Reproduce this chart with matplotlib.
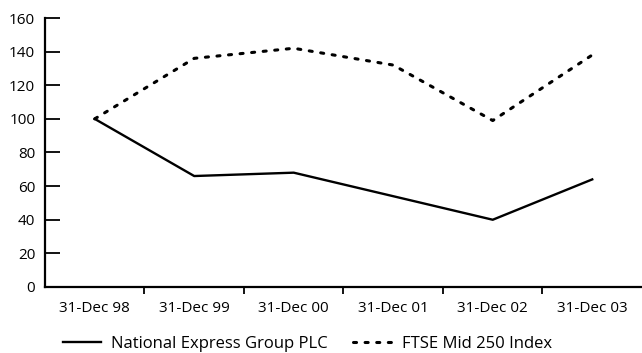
import matplotlib
matplotlib.use("Agg")
import matplotlib.pyplot as plt
import numpy as np

# values
dates = ["31-Dec 98", "31-Dec 99", "31-Dec 00", "31-Dec 01", "31-Dec 02", "31-Dec 03"]
national_express = [100, 66, 68, 54, 40, 64]
ftse_mid_250 = [100, 136, 142, 132, 99, 138]
y_ticks = [0, 20, 40, 60, 80, 100, 120, 140, 160]

plt.rcParams['font.family'] = ['Open Sans', 'DejaVu Sans']
fs = 11

fig = plt.figure(figsize=(6.42, 3.53), dpi=100)
ax = fig.add_axes([0.070, 0.187, 0.930, 0.762])

x = np.arange(len(dates))
ax.plot(x, national_express, color='black', lw=1.7, solid_joinstyle='round',
        label='National Express Group PLC')
ax.plot(x, ftse_mid_250, color='black', lw=2.2, linestyle=(0, (1.0, 2.8)),
        dash_capstyle='round', label='FTSE Mid 250 Index')

ax.set_xlim(-0.5, len(dates) - 0.5)
ax.set_ylim(0, 160)

# category labels in the middle, tick marks on the boundaries
ax.set_xticks(x)
ax.set_xticklabels(dates, fontsize=fs)
ax.tick_params(axis='x', which='major', length=0, pad=10)
ax.set_xticks(x[:-1] + 0.5, minor=True)
ax.tick_params(axis='x', which='minor', length=5, width=1.3, direction='out')

ax.set_yticks(y_ticks)
ax.set_yticklabels([str(v) for v in y_ticks], fontsize=fs)
ax.tick_params(axis='y', length=11, width=1.3, direction='in', pad=7)

for s in ['top', 'right']:
    ax.spines[s].set_visible(False)
for s in ['left', 'bottom']:
    ax.spines[s].set_linewidth(1.6)

fig.legend(loc='lower left', bbox_to_anchor=(0.075, -0.04), ncol=2, frameon=False,
           fontsize=12, handlelength=2.3, handletextpad=0.6, columnspacing=1.5)

fig.savefig("out.png", dpi=100)
